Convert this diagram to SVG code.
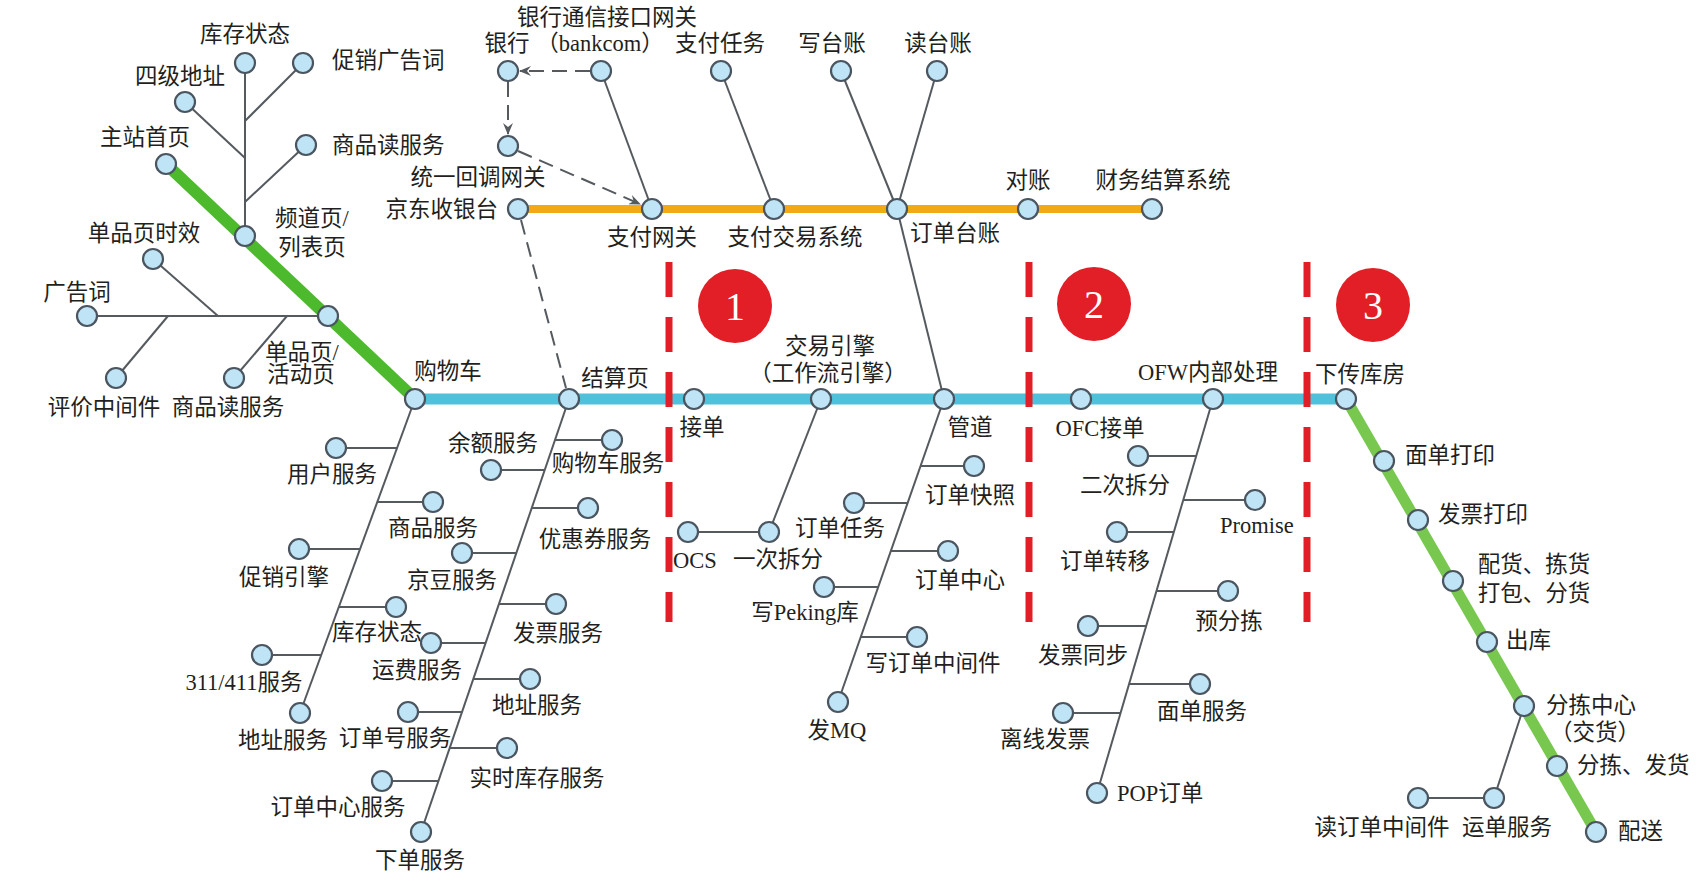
<svg xmlns="http://www.w3.org/2000/svg" width="1702" height="888" viewBox="0 0 1702 888">
<defs>
<style>
.n{fill:#bfe4f5;stroke:#4a5560;stroke-width:2.2}
.t{font-family:"Liberation Serif","Noto Sans CJK SC",serif;font-size:22.5px;fill:#231f20}
.m{text-anchor:middle}
.e{text-anchor:end}
.g{stroke:#555a5f;stroke-width:2;fill:none}
.d{stroke:#555a5f;stroke-width:2;fill:none;stroke-dasharray:15 8}
.rd{stroke:#e21e26;stroke-width:7;fill:none;stroke-dasharray:35 20}
.num{font-family:"Liberation Serif",serif;font-size:40px;fill:#fff;text-anchor:middle}
</style>
<marker id="ah" viewBox="0 0 12 10" refX="11" refY="5" markerWidth="12" markerHeight="10" markerUnits="userSpaceOnUse" orient="auto">
<path d="M0,0 L12,5 L0,10 L4,5 z" fill="#555a5f"/>
</marker>
</defs>
<rect width="1702" height="888" fill="#fff"/>

<g id="connectors">
<line x1="166" y1="164" x2="415" y2="399" stroke="#4cba2c" stroke-width="12"/>
<line x1="1346" y1="399" x2="1596" y2="832" stroke="#78c850" stroke-width="11"/>
<line x1="518" y1="209" x2="1152" y2="209" stroke="#f0aa14" stroke-width="8"/>
<line x1="415" y1="399" x2="1346" y2="399" stroke="#4fc1db" stroke-width="11"/>
<line class="g" x1="245" y1="63" x2="245" y2="236"/>
<line class="g" x1="303" y1="63" x2="245" y2="121"/>
<line class="g" x1="185" y1="102" x2="245" y2="158"/>
<line class="g" x1="306" y1="145" x2="245" y2="202"/>
<line class="g" x1="87" y1="316" x2="328" y2="316"/>
<line class="g" x1="153" y1="259" x2="218" y2="316"/>
<line class="g" x1="116" y1="378" x2="168" y2="316"/>
<line class="g" x1="234" y1="378" x2="287" y2="316"/>
<line class="d" x1="590" y1="71" x2="520" y2="71" marker-end="url(#ah)"/>
<line class="d" x1="508" y1="82" x2="508" y2="134" marker-end="url(#ah)"/>
<line class="d" x1="518" y1="151" x2="640" y2="204" marker-end="url(#ah)"/>
<line class="d" x1="521" y1="220" x2="566" y2="388"/>
<line class="g" x1="601" y1="71" x2="652" y2="209"/>
<line class="g" x1="721" y1="71" x2="774" y2="209"/>
<line class="g" x1="841" y1="71" x2="897" y2="209"/>
<line class="g" x1="937" y1="71" x2="897" y2="209"/>
<line class="g" x1="897" y1="209" x2="944" y2="399"/>
<line class="g" x1="415" y1="399" x2="300" y2="713"/>
<line class="g" x1="336" y1="448" x2="397" y2="448"/>
<line class="g" x1="433" y1="502" x2="377" y2="502"/>
<line class="g" x1="299" y1="549" x2="360" y2="549"/>
<line class="g" x1="396" y1="607" x2="339" y2="607"/>
<line class="g" x1="262" y1="655" x2="321" y2="655"/>
<line class="g" x1="569" y1="399" x2="421" y2="832"/>
<line class="g" x1="612" y1="440" x2="555" y2="440"/>
<line class="g" x1="491" y1="470" x2="545" y2="470"/>
<line class="g" x1="588" y1="508" x2="532" y2="508"/>
<line class="g" x1="462" y1="553" x2="516" y2="553"/>
<line class="g" x1="556" y1="604" x2="499" y2="604"/>
<line class="g" x1="431" y1="643" x2="486" y2="643"/>
<line class="g" x1="530" y1="679" x2="473" y2="679"/>
<line class="g" x1="408" y1="712" x2="462" y2="712"/>
<line class="g" x1="507" y1="748" x2="450" y2="748"/>
<line class="g" x1="382" y1="781" x2="438" y2="781"/>
<line class="g" x1="821" y1="399" x2="769" y2="532"/>
<line class="g" x1="688" y1="532" x2="769" y2="532"/>
<line class="g" x1="944" y1="399" x2="838" y2="702"/>
<line class="g" x1="974" y1="466" x2="921" y2="466"/>
<line class="g" x1="854" y1="503" x2="908" y2="503"/>
<line class="g" x1="948" y1="551" x2="891" y2="551"/>
<line class="g" x1="824" y1="587" x2="878" y2="587"/>
<line class="g" x1="917" y1="637" x2="861" y2="637"/>
<line class="g" x1="1213" y1="399" x2="1097" y2="793"/>
<line class="g" x1="1138" y1="456" x2="1196" y2="456"/>
<line class="g" x1="1255" y1="500" x2="1183" y2="500"/>
<line class="g" x1="1117" y1="532" x2="1174" y2="532"/>
<line class="g" x1="1228" y1="591" x2="1157" y2="591"/>
<line class="g" x1="1088" y1="626" x2="1146" y2="626"/>
<line class="g" x1="1200" y1="684" x2="1129" y2="684"/>
<line class="g" x1="1063" y1="713" x2="1121" y2="713"/>
<line class="g" x1="1524" y1="706" x2="1494" y2="798"/>
<line class="g" x1="1418" y1="798" x2="1494" y2="798"/>
</g>

<g id="stages">
<line class="rd" x1="669" y1="262" x2="669" y2="622"/>
<line class="rd" x1="1029" y1="262" x2="1029" y2="622"/>
<line class="rd" x1="1307" y1="262" x2="1307" y2="622"/>
<circle cx="735" cy="306" r="37" fill="#e21e26"/>
<text class="num" x="735" y="320">1</text>
<circle cx="1094" cy="304" r="37" fill="#e21e26"/>
<text class="num" x="1094" y="318">2</text>
<circle cx="1373" cy="305" r="37" fill="#e21e26"/>
<text class="num" x="1373" y="319">3</text>
</g>

<g id="n_zhuzhan"><circle class="n" cx="166" cy="164" r="10"/><text class="t m" x="145" y="145">主站首页</text></g>
<g id="n_pindao"><circle class="n" cx="245" cy="236" r="10"/><text class="t m" x="312" y="226">频道页/</text><text class="t m" x="312" y="255">列表页</text></g>
<g id="n_kucun1"><circle class="n" cx="245" cy="63" r="10"/><text class="t m" x="245" y="42">库存状态</text></g>
<g id="n_cuxiaoggc"><circle class="n" cx="303" cy="63" r="10"/><text class="t" x="332" y="68">促销广告词</text></g>
<g id="n_siji"><circle class="n" cx="185" cy="102" r="10"/><text class="t m" x="180" y="84">四级地址</text></g>
<g id="n_spds1"><circle class="n" cx="306" cy="145" r="10"/><text class="t" x="332" y="153">商品读服务</text></g>
<g id="n_danpin"><circle class="n" cx="328" cy="316" r="10"/><text class="t m" x="302" y="360">单品页/</text><text class="t m" x="301" y="382">活动页</text></g>
<g id="n_dpsx"><circle class="n" cx="153" cy="259" r="10"/><text class="t m" x="144" y="241">单品页时效</text></g>
<g id="n_ggc"><circle class="n" cx="87" cy="316" r="10"/><text class="t m" x="77" y="300">广告词</text></g>
<g id="n_pjzjj"><circle class="n" cx="116" cy="378" r="10"/><text class="t m" x="104" y="415">评价中间件</text></g>
<g id="n_spds2"><circle class="n" cx="234" cy="378" r="10"/><text class="t m" x="228" y="415">商品读服务</text></g>

<g id="n_yinhang"><circle class="n" cx="508" cy="71" r="10"/><text class="t m" x="507" y="51">银行</text></g>
<g id="n_bankcom"><circle class="n" cx="601" cy="71" r="10"/><text class="t m" x="607" y="25">银行通信接口网关</text><text class="t m" x="600" y="51">（bankcom）</text></g>
<g id="n_zfrw"><circle class="n" cx="721" cy="71" r="10"/><text class="t m" x="720" y="51">支付任务</text></g>
<g id="n_xtz"><circle class="n" cx="841" cy="71" r="10"/><text class="t m" x="832" y="51">写台账</text></g>
<g id="n_dtz"><circle class="n" cx="937" cy="71" r="10"/><text class="t m" x="938" y="51">读台账</text></g>
<g id="n_tyhd"><circle class="n" cx="508" cy="146" r="10"/><text class="t m" x="478" y="185">统一回调网关</text></g>
<g id="n_jdsyt"><circle class="n" cx="518" cy="209" r="10"/><text class="t e" x="498" y="217">京东收银台</text></g>
<g id="n_zfwg"><circle class="n" cx="652" cy="209" r="10"/><text class="t m" x="652" y="245">支付网关</text></g>
<g id="n_zfjy"><circle class="n" cx="774" cy="209" r="10"/><text class="t m" x="795" y="245">支付交易系统</text></g>
<g id="n_ddtz"><circle class="n" cx="897" cy="209" r="10"/><text class="t m" x="955" y="241">订单台账</text></g>
<g id="n_dz"><circle class="n" cx="1028" cy="209" r="10"/><text class="t m" x="1028" y="188">对账</text></g>
<g id="n_cwjs"><circle class="n" cx="1152" cy="209" r="10"/><text class="t m" x="1163" y="188">财务结算系统</text></g>

<g id="n_gwc"><circle class="n" cx="415" cy="399" r="10"/><text class="t m" x="448" y="379">购物车</text></g>
<g id="n_jsy"><circle class="n" cx="569" cy="399" r="10"/><text class="t m" x="615" y="386">结算页</text></g>
<g id="n_jd"><circle class="n" cx="694" cy="399" r="10"/><text class="t m" x="702" y="435">接单</text></g>
<g id="n_jyyq"><circle class="n" cx="821" cy="399" r="10"/><text class="t m" x="830" y="354">交易引擎</text><text class="t m" x="828" y="381">（工作流引擎）</text></g>
<g id="n_gd"><circle class="n" cx="944" cy="399" r="10"/><text class="t m" x="970" y="435">管道</text></g>
<g id="n_ofc"><circle class="n" cx="1081" cy="399" r="10"/><text class="t m" x="1100" y="436">OFC接单</text></g>
<g id="n_ofw"><circle class="n" cx="1213" cy="399" r="10"/><text class="t m" x="1208" y="380">OFW内部处理</text></g>
<g id="n_xckf"><circle class="n" cx="1346" cy="399" r="10"/><text class="t m" x="1360" y="382">下传库房</text></g>

<g id="n_yhfw"><circle class="n" cx="336" cy="448" r="10"/><text class="t m" x="332" y="482">用户服务</text></g>
<g id="n_spfw"><circle class="n" cx="433" cy="502" r="10"/><text class="t m" x="433" y="536">商品服务</text></g>
<g id="n_cxyq"><circle class="n" cx="299" cy="549" r="10"/><text class="t m" x="284" y="585">促销引擎</text></g>
<g id="n_kczt2"><circle class="n" cx="396" cy="607" r="10"/><text class="t m" x="377" y="640">库存状态</text></g>
<g id="n_311"><circle class="n" cx="262" cy="655" r="10"/><text class="t m" x="244" y="690">311/411服务</text></g>
<g id="n_dzfw1"><circle class="n" cx="300" cy="713" r="10"/><text class="t m" x="283" y="748">地址服务</text></g>

<g id="n_gwcfw"><circle class="n" cx="612" cy="440" r="10"/><text class="t m" x="608" y="471">购物车服务</text></g>
<g id="n_yefw"><circle class="n" cx="491" cy="470" r="10"/><text class="t m" x="493" y="451">余额服务</text></g>
<g id="n_yhqfw"><circle class="n" cx="588" cy="508" r="10"/><text class="t m" x="595" y="547">优惠券服务</text></g>
<g id="n_jdfw"><circle class="n" cx="462" cy="553" r="10"/><text class="t m" x="452" y="588">京豆服务</text></g>
<g id="n_fpfw"><circle class="n" cx="556" cy="604" r="10"/><text class="t m" x="558" y="641">发票服务</text></g>
<g id="n_yffw"><circle class="n" cx="431" cy="643" r="10"/><text class="t m" x="417" y="678">运费服务</text></g>
<g id="n_dzfw2"><circle class="n" cx="530" cy="679" r="10"/><text class="t m" x="537" y="713">地址服务</text></g>
<g id="n_ddhfw"><circle class="n" cx="408" cy="712" r="10"/><text class="t m" x="395" y="746">订单号服务</text></g>
<g id="n_sskc"><circle class="n" cx="507" cy="748" r="10"/><text class="t m" x="537" y="786">实时库存服务</text></g>
<g id="n_ddzxfw"><circle class="n" cx="382" cy="781" r="10"/><text class="t m" x="338" y="815">订单中心服务</text></g>
<g id="n_xdfw"><circle class="n" cx="421" cy="832" r="10"/><text class="t m" x="420" y="868">下单服务</text></g>

<g id="n_ocs"><circle class="n" cx="688" cy="532" r="10"/><text class="t m" x="695" y="568">OCS</text></g>
<g id="n_ycqf"><circle class="n" cx="769" cy="532" r="10"/><text class="t m" x="778" y="567">一次拆分</text></g>
<g id="n_ddkz"><circle class="n" cx="974" cy="466" r="10"/><text class="t m" x="970" y="503">订单快照</text></g>
<g id="n_ddrw"><circle class="n" cx="854" cy="503" r="10"/><text class="t m" x="840" y="536">订单任务</text></g>
<g id="n_ddzx"><circle class="n" cx="948" cy="551" r="10"/><text class="t m" x="960" y="588">订单中心</text></g>
<g id="n_peking"><circle class="n" cx="824" cy="587" r="10"/><text class="t m" x="805" y="620">写Peking库</text></g>
<g id="n_xddzjj"><circle class="n" cx="917" cy="637" r="10"/><text class="t m" x="933" y="671">写订单中间件</text></g>
<g id="n_fmq"><circle class="n" cx="838" cy="702" r="10"/><text class="t m" x="837" y="738">发MQ</text></g>

<g id="n_ecqf"><circle class="n" cx="1138" cy="456" r="10"/><text class="t m" x="1125" y="493">二次拆分</text></g>
<g id="n_promise"><circle class="n" cx="1255" cy="500" r="10"/><text class="t m" x="1257" y="533">Promise</text></g>
<g id="n_ddzy"><circle class="n" cx="1117" cy="532" r="10"/><text class="t m" x="1105" y="569">订单转移</text></g>
<g id="n_yfj"><circle class="n" cx="1228" cy="591" r="10"/><text class="t m" x="1229" y="629">预分拣</text></g>
<g id="n_fptb"><circle class="n" cx="1088" cy="626" r="10"/><text class="t m" x="1083" y="663">发票同步</text></g>
<g id="n_mdfw"><circle class="n" cx="1200" cy="684" r="10"/><text class="t m" x="1202" y="719">面单服务</text></g>
<g id="n_lxfp"><circle class="n" cx="1063" cy="713" r="10"/><text class="t m" x="1045" y="747">离线发票</text></g>
<g id="n_pop"><circle class="n" cx="1097" cy="793" r="10"/><text class="t" x="1117" y="801">POP订单</text></g>

<g id="n_mddy"><circle class="n" cx="1384" cy="461" r="10"/><text class="t" x="1405" y="463">面单打印</text></g>
<g id="n_fpdy"><circle class="n" cx="1418" cy="520" r="10"/><text class="t" x="1438" y="522">发票打印</text></g>
<g id="n_phjh"><circle class="n" cx="1453" cy="581" r="10"/><text class="t m" x="1534" y="572">配货、拣货</text><text class="t m" x="1534" y="601">打包、分货</text></g>
<g id="n_ck"><circle class="n" cx="1487" cy="642" r="10"/><text class="t" x="1506" y="648">出库</text></g>
<g id="n_fjzx"><circle class="n" cx="1524" cy="706" r="10"/><text class="t m" x="1591" y="713">分拣中心</text><text class="t m" x="1595" y="740">（交货）</text></g>
<g id="n_fjfh"><circle class="n" cx="1557" cy="766" r="10"/><text class="t" x="1577" y="773">分拣、发货</text></g>
<g id="n_ps"><circle class="n" cx="1596" cy="832" r="10"/><text class="t" x="1618" y="839">配送</text></g>
<g id="n_ydfw"><circle class="n" cx="1494" cy="798" r="10"/><text class="t m" x="1507" y="835">运单服务</text></g>
<g id="n_dddzjj"><circle class="n" cx="1418" cy="798" r="10"/><text class="t m" x="1382" y="835">读订单中间件</text></g>
</svg>
